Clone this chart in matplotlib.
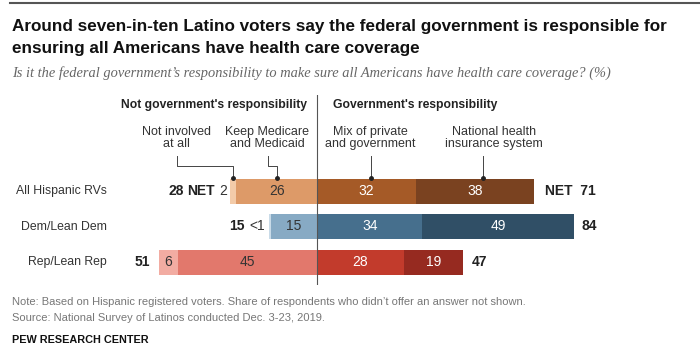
import numpy as np
import matplotlib
matplotlib.use("Agg")
import matplotlib.pyplot as plt

# ── data ──────────────────────────────────────────────────────────────────
GROUPS      = ["All Hispanic RVs", "Dem/Lean Dem", "Rep/Lean Rep"]
NOT_INVOLVED = [2, 0.4, 6]
KEEP_MED     = [26, 15, 45]
MIX          = [32, 34, 28]
NATIONAL     = [38, 49, 19]
NET_NOT      = [28, 15, 51]
NET_GOV      = [71, 84, 47]
NOT_INV_LBL  = ["2", "<1", "6"]

COLORS = {
    "not_inv":  ["#f3cba9", "#c9dbe8", "#f2aca2"],
    "keep":     ["#dd9a68", "#87aac4", "#e2786c"],
    "mix":      ["#a55a27", "#466f8d", "#c23b2c"],
    "national": ["#7a4220", "#304f66", "#962a20"],
}

W, H = 700, 362
fig = plt.figure(figsize=(W / 100, H / 100), dpi=100, facecolor="white")
plt.rcParams["font.family"] = ["Liberation Sans", "DejaVu Sans"]

def fx(px): return px / W
def fy(py): return 1 - py / H

# axes mapped so that 0 sits at pixel 317, 3.1 px per percentage point
X0, PPU = 317, 3.1
ax = fig.add_axes([fx(100), fy(285), 550 / W, 190 / H])
ax.set_xlim((100 - X0) / PPU, (650 - X0) / PPU)
ROW = 35.5
ax.set_ylim(2 + (285 - 262) / ROW, -(191 - 95) / ROW)
ax.axis("off")

y = np.arange(len(GROUPS))
BH = 25 / ROW
ni = np.array(NOT_INVOLVED); km = np.array(KEEP_MED)
mx = np.array(MIX); na = np.array(NATIONAL)

ax.barh(y, -km, height=BH, color=COLORS["keep"], linewidth=0)
ax.barh(y, -ni, left=-km, height=BH, color=COLORS["not_inv"], linewidth=0)
ax.barh(y, mx, height=BH, color=COLORS["mix"], linewidth=0)
ax.barh(y, na, left=mx, height=BH, color=COLORS["national"], linewidth=0)

ax.axvline(0, color="#555555", linewidth=0.8, ymin=0, ymax=1)

TS = 10
for i in y:
    ax.text(-km[i] / 2, i, f"{KEEP_MED[i]}", ha="center", va="center",
            fontsize=TS, color="#333333")
    ax.text(mx[i] / 2, i, f"{MIX[i]}", ha="center", va="center",
            fontsize=TS, color="white")
    ax.text(mx[i] + na[i] / 2, i, f"{NATIONAL[i]}", ha="center", va="center",
            fontsize=TS, color="white")
    right_end = mx[i] + na[i]
    left_end = -(km[i] + ni[i])
    if i == 0:
        ax.text(left_end - 1, i, NOT_INV_LBL[i], ha="right", va="center",
                fontsize=TS, color="#333333")
        ax.text(left_end - 5, i, "NET", ha="right", va="center",
                fontsize=TS, fontweight="bold", color="#222222")
        ax.text(left_end - 15, i, f"{NET_NOT[i]}", ha="right", va="center",
                fontsize=TS, fontweight="bold", color="#222222")
        ax.text(right_end + 3.5, i, f"NET  {NET_GOV[i]}", ha="left", va="center",
                fontsize=TS, fontweight="bold", color="#222222")
    elif i == 1:
        ax.text(left_end - 1.3, i, NOT_INV_LBL[i], ha="right", va="center",
                fontsize=TS, color="#333333")
        ax.text(left_end - 8, i, f"{NET_NOT[i]}", ha="right", va="center",
                fontsize=TS, fontweight="bold", color="#222222")
        ax.text(right_end + 2.2, i, f"{NET_GOV[i]}", ha="left", va="center",
                fontsize=TS, fontweight="bold", color="#222222")
    else:
        ax.text(left_end + ni[i] / 2, i, NOT_INV_LBL[i], ha="center", va="center",
                fontsize=TS, color="#333333")
        ax.text(left_end - 3, i, f"{NET_NOT[i]}", ha="right", va="center",
                fontsize=TS, fontweight="bold", color="#222222")
        ax.text(right_end + 3, i, f"{NET_GOV[i]}", ha="left", va="center",
                fontsize=TS, fontweight="bold", color="#222222")
    fig.text(fx(107), fy(191 + i * ROW), GROUPS[i], ha="right", va="center",
             fontsize=8.8, color="#333333")

# ── headers and leader lines (pixel space) ───────────────────────────────
fig.text(fx(214), fy(105), "Not government's responsibility", ha="center",
         va="center", fontsize=8.7, fontweight="bold", color="#222222")
fig.text(fx(333), fy(105), "Government's responsibility", ha="left",
         va="center", fontsize=8.7, fontweight="bold", color="#222222")

subs = [("Not involved\nat all", 176), ("Keep Medicare\nand Medicaid", 267),
        ("Mix of private\nand government", 370),
        ("National health\ninsurance system", 494)]
for txt, cx in subs:
    fig.text(fx(cx), fy(138), txt, ha="center", va="center", fontsize=9,
             color="#333333", linespacing=1.0)

leaders = [([177, 177, 233, 233], [156, 166, 166, 178]),
           ([268, 268, 277, 277], [156, 166, 166, 178]),
           ([371, 371], [156, 178]),
           ([483, 483], [156, 178])]
for xs, ys in leaders:
    fig.add_artist(plt.Line2D([fx(v) for v in xs], [fy(v) for v in ys],
                              color="#444444", linewidth=0.7))
    fig.add_artist(plt.Line2D([fx(xs[-1])], [fy(ys[-1])], marker="o",
                              markersize=2.5, color="#222222", linewidth=0))

# ── titles and footer ─────────────────────────────────────────────────────
fig.add_artist(plt.Line2D([fx(10), fx(700)], [fy(3), fy(3)],
                          color="#555555", linewidth=1.5))
fig.text(fx(12), fy(27), "Around seven-in-ten Latino voters say the federal government is responsible for",
         ha="left", va="center", fontsize=12.3, fontweight="bold", color="#111111")
fig.text(fx(12), fy(49), "ensuring all Americans have health care coverage",
         ha="left", va="center", fontsize=12.3, fontweight="bold", color="#111111")
fig.text(fx(12), fy(73), "Is it the federal government\u2019s responsibility to make sure all Americans have health care coverage? (%)",
         ha="left", va="center", fontsize=10.4, style="italic", color="#666666",
         family=["Liberation Serif", "DejaVu Serif"])
fig.text(fx(12), fy(302), "Note: Based on Hispanic registered voters. Share of respondents who didn\u2019t offer an answer not shown.",
         ha="left", va="center", fontsize=8.0, color="#777777")
fig.text(fx(12), fy(318), "Source: National Survey of Latinos conducted Dec. 3-23, 2019.",
         ha="left", va="center", fontsize=8.0, color="#777777")
fig.text(fx(12), fy(340), "PEW RESEARCH CENTER", ha="left", va="center",
         fontsize=7.8, fontweight="bold", color="#111111")

fig.savefig("out.png", dpi=100, facecolor="white")
